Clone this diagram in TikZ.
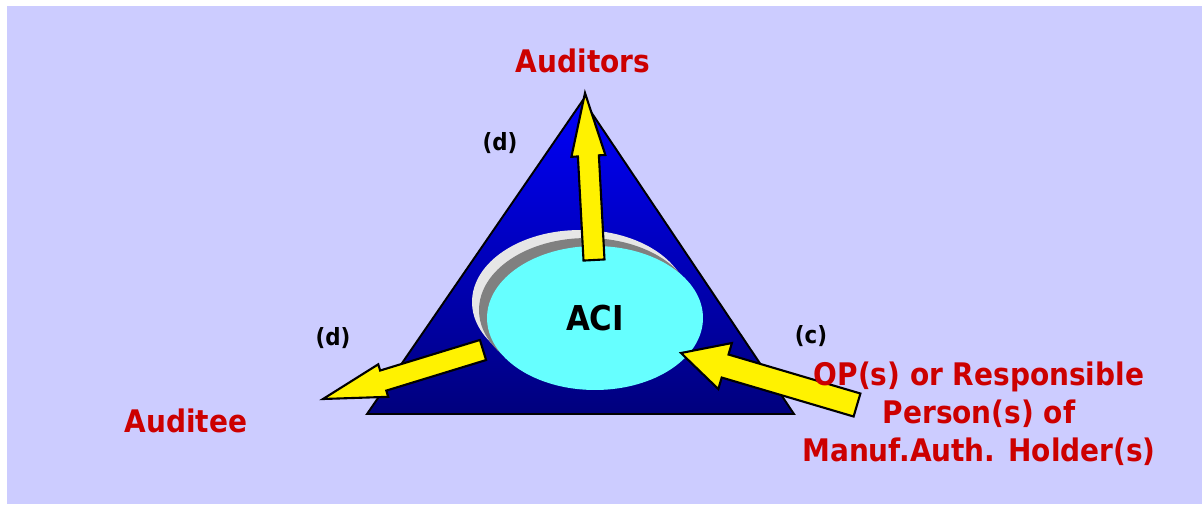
\documentclass[tikz,border=0pt]{standalone}
\usepackage{fontspec}
\setmainfont{DejaVu Sans Condensed}
\usepackage{tikz}
\usetikzlibrary{calc,shapes.geometric}

\definecolor{bgLav}{RGB}{204,204,255}
\definecolor{labelRed}{RGB}{204,0,0}
\definecolor{aciCyan}{RGB}{102,255,255}
\definecolor{rimGrey}{RGB}{128,128,128}
\definecolor{rimLight}{RGB}{230,230,230}
\definecolor{triTop}{RGB}{0,0,250}
\definecolor{triBottom}{RGB}{0,0,125}

% fat yellow arrow: start, tip, shaft half width, head half width, head length
\newcommand{\fatarrow}[5]{%
  \draw[fatarrow] ($(#1)!#3!90:(#2)$)
    -- ($(#2)!#5!(#1)!#3!-90:(#1)$)
    -- ($(#2)!#5!(#1)!#4!-90:(#1)$)
    -- (#2)
    -- ($(#2)!#5!(#1)!#4!90:(#1)$)
    -- ($(#2)!#5!(#1)!#3!90:(#1)$)
    -- ($(#1)!#3!-90:(#2)$) -- cycle;}

\begin{document}
\begin{tikzpicture}[x=0.02cm,y=-0.02cm,
    fatarrow/.style={draw=black,line width=1.2pt,fill=yellow,line join=miter},
    redlabel/.style={text=labelRed,font=\fontsize{17.7}{21.6}\selectfont\bfseries,inner sep=0pt},
    letter/.style={font=\fontsize{13.5}{16}\selectfont\bfseries,inner sep=0pt},
    disc/.style={ellipse,minimum width=4.32cm,minimum height=2.88cm,inner sep=0pt}]
    \useasboundingbox (0,0) rectangle (1202,504);
    \fill[white] (0,0) rectangle (1202,504);
    \fill[bgLav] (7,6) rectangle (1202,504);

    \coordinate (apex) at (583,100);
    \coordinate (baseL) at (367,414);
    \coordinate (baseR) at (794,414);

    \shade[top color=triTop,bottom color=triBottom,draw=black,line width=1.1pt]
        (apex) -- (baseR) -- (baseL) -- cycle;

    % sunken rim behind the ACI disc
    \node[disc,fill=rimLight] (aciRim) at (580,302) {};
    \node[disc,fill=rimGrey] (aciShade) at (587,310) {};
    \node[disc,fill=aciCyan,font=\fontsize{19.5}{22}\selectfont\bfseries] (aci) at (595,318) {ACI};

    \coordinate (upBase) at (594,260);
    \coordinate (upTip) at (585,93);
    \coordinate (leftBase) at (483,350);
    \coordinate (leftTip) at (323,399);
    \coordinate (rightBase) at (857,405);
    \coordinate (rightTip) at (681,353);

    \fatarrow{upBase}{upTip}{0.21cm}{0.34cm}{1.26cm}
    \fatarrow{leftBase}{leftTip}{0.21cm}{0.34cm}{1.26cm}
    \fatarrow{rightBase}{rightTip}{0.24cm}{0.48cm}{0.92cm}

    \node[letter] (dTop) at (500,143) {(d)};
    \node[letter] (dLeft) at (333,338) {(d)};
    \node[letter] (cRight) at (811,336) {(c)};

    \node[redlabel,anchor=base] (auditors) at (583,72) {Auditors};
    \node[redlabel,anchor=base] (auditee) at (186,432) {Auditee};
    \node[redlabel,align=center] (holder) at (979,414)
        {OP(s) or Responsible\\Person(s) of\\Manuf.Auth. Holder(s)};
\end{tikzpicture}
\end{document}
